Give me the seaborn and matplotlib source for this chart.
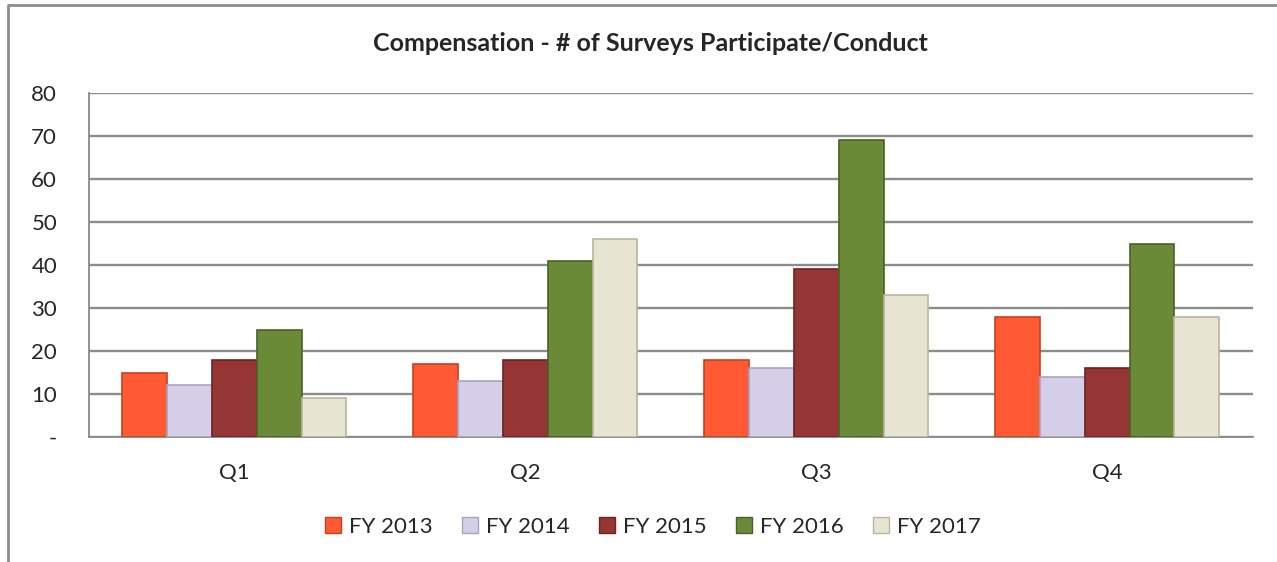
import numpy as np
import pandas as pd
import matplotlib
matplotlib.use('Agg')
import matplotlib.pyplot as plt
from matplotlib.lines import Line2D
import seaborn as sns

QUARTERS = ['Q1', 'Q2', 'Q3', 'Q4']
YEARS = ['FY 2013', 'FY 2014', 'FY 2015', 'FY 2016', 'FY 2017']
FY2013 = [15, 17, 18, 28]
FY2014 = [12, 13, 16, 14]
FY2015 = [18, 18, 39, 16]
FY2016 = [25, 41, 69, 45]
FY2017 = [9, 46, 33, 28]
Y_TICKS = [0, 10, 20, 30, 40, 50, 60, 70, 80]
Y_LABELS = ['-', '10', '20', '30', '40', '50', '60', '70', '80']

COLORS = ['#FF5A33', '#D5CEE8', '#963634', '#6B8A38', '#E7E4D2']
EDGES = ['#C8401E', '#A9A2C0', '#6E2422', '#4A6226', '#B9B5A0']

df = pd.DataFrame({
    'quarter': QUARTERS * len(YEARS),
    'year': np.repeat(YEARS, len(QUARTERS)),
    'value': FY2013 + FY2014 + FY2015 + FY2016 + FY2017,
})

sns.set_style('white')
plt.rcParams['font.family'] = ['Lato', 'DejaVu Sans']

fig = plt.figure(figsize=(12.77, 5.62), dpi=100)
ax = fig.add_axes([0.0697, 0.2224, 0.9113, 0.6121])

sns.barplot(data=df, x='quarter', y='value', hue='year', order=QUARTERS,
            hue_order=YEARS, palette=COLORS, width=0.77, saturation=1,
            ax=ax, legend=False, zorder=3)

# darker edge per series to hint at the bevel look
for container, edge in zip(ax.containers, EDGES):
    for bar in container:
        bar.set_edgecolor(edge)
        bar.set_linewidth(1.2)

ax.set_xlim(-0.5, 3.5)
ax.set_ylim(0, 80)
ax.set_yticks(Y_TICKS)
ax.set_yticklabels(Y_LABELS, fontsize=16)
ax.set_xticks(range(len(QUARTERS)))
ax.set_xticklabels(QUARTERS, fontsize=16)
ax.set_xticks([-0.5, 0.5, 1.5, 2.5, 3.5], minor=True)
ax.tick_params(axis='x', which='major', length=0, pad=19)
ax.tick_params(axis='x', which='minor', length=6, width=1.3, color='#888888', direction='out')
ax.tick_params(axis='y', length=6, width=1.3, color='#888888', direction='out', pad=17)

ax.yaxis.grid(True, color='#8C8C8C', linewidth=1.7, zorder=0)
ax.set_axisbelow(True)
ax.set_xlabel('')
ax.set_ylabel('')
for side in ['top', 'right']:
    ax.spines[side].set_visible(False)
for side in ['left', 'bottom']:
    ax.spines[side].set_color('#888888')
    ax.spines[side].set_linewidth(1.3)

fig.suptitle('Compensation - # of Surveys Participate/Conduct', x=0.509, y=0.922,
             va='center', fontsize=18, fontweight='bold')

handles = [Line2D([0], [0], marker='s', linestyle='', markersize=11,
                  markerfacecolor=c, markeredgecolor=e) for c, e in zip(COLORS, EDGES)]
fig.legend(handles, YEARS, loc='center', bbox_to_anchor=(0.511, 0.062), ncol=5,
           frameon=False, fontsize=16, handlelength=0.8, handletextpad=0.3,
           columnspacing=1.3)

# outer frame of the chart (cut off at right and bottom)
fig.add_artist(Line2D([0.0063, 0.0063, 1.0], [0.0, 0.991, 0.991],
                      transform=fig.transFigure, color='#8C8C8C', linewidth=2))

fig.savefig('out.png', dpi=100)
